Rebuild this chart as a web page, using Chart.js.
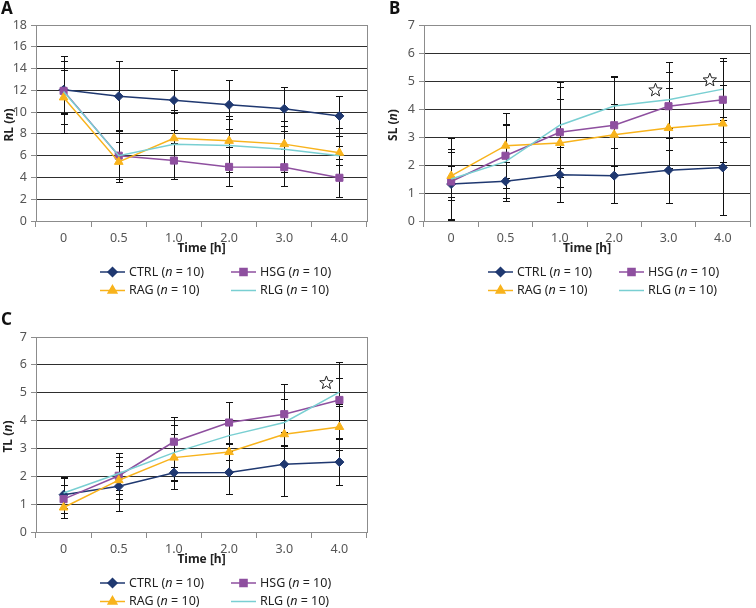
<!DOCTYPE html>
<html>
<head>
<meta charset="utf-8">
<script src="https://cdn.jsdelivr.net/npm/chart.js@4.4.1/dist/chart.umd.min.js"></script>
<style>
  body { margin: 0; background: #fff; width: 756px; height: 608px; position: relative; overflow: hidden; }
  canvas { position: absolute; }
</style>
</head>
<body>
<canvas id="chartA" width="378" height="300" style="left:0;top:0"></canvas>
<canvas id="chartB" width="378" height="300" style="left:378px;top:0"></canvas>
<canvas id="chartC" width="378" height="310" style="left:0;top:298px"></canvas>
<script>
// categories
const timeLabels = ['0', '0.5', '1.0', '2.0', '3.0', '4.0'];
const groupNames = ['CTRL', 'HSG', 'RAG', 'RLG'];

// panel A - RL (n)
const rlCtrl = [12.05, 11.45, 11.1, 10.67, 10.3, 9.65];
const rlHsg = [11.95, 6.0, 5.55, 4.97, 4.94, 3.97];
const rlRag = [11.35, 5.43, 7.6, 7.36, 7.06, 6.26];
const rlRlg = [11.9, 6.0, 7.05, 6.93, 6.6, 6.0];
const rlCtrlErr = [3.1, 3.2, 2.77, 2.25, 2.0, 1.8];
const rlHsgErr = [2.1, 2.1, 1.65, 1.8, 1.7, 1.75];
const rlRagErr = [3.3, 1.85, 2.3, 2.3, 2.15, 2.25];
const rlRlgErr = [2.0, 2.4, 3.15, 2.4, 2.1, 0.9];

// panel B - SL (n)
const slCtrl = [1.32, 1.42, 1.65, 1.62, 1.81, 1.91];
const slHsg = [1.41, 2.33, 3.17, 3.42, 4.1, 4.33];
const slRag = [1.61, 2.69, 2.79, 3.08, 3.32, 3.48];
const slRlg = [1.5, 2.12, 3.42, 4.11, 4.33, 4.71];
const slCtrlErr = [1.25, 0.7, 0.98, 0.98, 1.15, 1.7];
const slHsgErr = [0.55, 1.15, 1.6, 1.75, 1.58, 1.5];
const slRagErr = [0.85, 1.16, 1.57, 1.1, 1.44, 1.36];
const slRlgErr = [1.45, 1.3, 1.54, 1.05, 1.0, 1.0];
const slStars = [['3.0', 4.67], ['4.0', 5.03]];

// panel C - TL (n)
const tlCtrl = [1.34, 1.64, 2.13, 2.14, 2.43, 2.51];
const tlHsg = [1.18, 2.02, 3.24, 3.93, 4.23, 4.74];
const tlRag = [0.88, 1.86, 2.67, 2.87, 3.51, 3.77];
const tlRlg = [1.4, 2.1, 2.85, 3.46, 3.93, 5.02];
const tlCtrlErr = [0.64, 0.87, 0.58, 0.78, 1.15, 0.83];
const tlHsgErr = [0.5, 0.82, 0.9, 0.72, 1.1, 1.35];
const tlRagErr = [0.36, 0.5, 0.85, 0.3, 0.5, 0.83];
const tlRlgErr = [0.55, 0.6, 1.0, 0.55, 0.85, 0.5];
const tlStars = [['4.0', 5.35]];

const FONT = "'Noto Sans', 'Open Sans', sans-serif";
const colors = ['#1f3870', '#8e4f9f', '#f8b31c', '#79cfd2'];
const styles = [
  { pointStyle: 'rectRot', radius: 4.5 },
  { pointStyle: 'rect', radius: 5 },
  { pointStyle: 'triangle', radius: 5 },
  { pointStyle: false, radius: 0 },
];

function drawStar(ctx, cx, cy, ro, ri) {
  ctx.beginPath();
  for (let k = 0; k < 10; k++) {
    const r = k % 2 ? ri : ro;
    const ang = -Math.PI / 2 + k * Math.PI / 5;
    const px = cx + r * Math.cos(ang), py = cy + r * Math.sin(ang);
    if (k === 0) ctx.moveTo(px, py); else ctx.lineTo(px, py);
  }
  ctx.closePath();
  ctx.fillStyle = '#fff';
  ctx.fill();
  ctx.strokeStyle = '#222';
  ctx.lineWidth = 1;
  ctx.stroke();
}

// draws text pieces [text, italic] in a row, starting at x
function drawMixed(ctx, parts, x, y, size, weight) {
  parts.forEach(([t, it]) => {
    ctx.font = (it ? 'italic ' : '') + weight + ' ' + size + 'px ' + FONT;
    ctx.fillText(t, x, y);
    x += ctx.measureText(t).width;
  });
}
function mixedWidth(ctx, parts, size, weight) {
  let w = 0;
  parts.forEach(([t, it]) => {
    ctx.font = (it ? 'italic ' : '') + weight + ' ' + size + 'px ' + FONT;
    w += ctx.measureText(t).width;
  });
  return w;
}

const extras = {
  id: 'extras',
  beforeDatasetsDraw(chart, args, opts) {
    const { ctx, chartArea: a, scales: { x, y } } = chart;
    ctx.save();
    // right border of plot area
    ctx.strokeStyle = '#8c8c8c';
    ctx.lineWidth = 1;
    ctx.beginPath();
    ctx.moveTo(Math.round(a.right) + 0.5, a.top);
    ctx.lineTo(Math.round(a.right) + 0.5, a.bottom);
    ctx.stroke();
    // error bars
    ctx.strokeStyle = '#111';
    opts.errors.forEach((errs, di) => {
      chart.data.datasets[di].data.forEach((v, i) => {
        const px = Math.round(x.getPixelForValue(i)) + 0.5;
        const top = Math.round(y.getPixelForValue(v + errs[i])) + 0.5;
        const bot = Math.round(y.getPixelForValue(Math.max(v - errs[i], 0))) + 0.5;
        ctx.beginPath();
        ctx.moveTo(px, top); ctx.lineTo(px, bot);
        ctx.moveTo(px - 3.5, top); ctx.lineTo(px + 3.5, top);
        ctx.moveTo(px - 3.5, bot); ctx.lineTo(px + 3.5, bot);
        ctx.stroke();
      });
    });
    ctx.restore();
  },
  afterDraw(chart, args, opts) {
    const { ctx, chartArea: a, scales: { x, y } } = chart;
    ctx.save();
    ctx.textBaseline = 'alphabetic';
    // panel letter
    ctx.fillStyle = '#111';
    ctx.font = 'bold 17px ' + FONT;
    ctx.textAlign = 'left';
    ctx.fillText(opts.letter, opts.letterX, opts.letterY);
    // x title
    ctx.font = 'bold 12px ' + FONT;
    ctx.fillStyle = '#222';
    ctx.textAlign = 'center';
    ctx.textBaseline = 'middle';
    ctx.fillText('Time [h]', (a.left + a.right) / 2, a.bottom + 28);
    // y title
    const yParts = [[opts.yTitle + ' (', false], ['n', true], [')', false]];
    ctx.textAlign = 'left';
    const w = mixedWidth(ctx, yParts, 12, 'bold');
    ctx.translate(opts.yTitleX, (a.top + a.bottom) / 2 + 2);
    ctx.rotate(-Math.PI / 2);
    drawMixed(ctx, yParts, -w / 2, 0, 12, 'bold');
    ctx.setTransform(1, 0, 0, 1, 0, 0);
    // stars
    (opts.stars || []).forEach(([cat, val]) => {
      drawStar(ctx, x.getPixelForValue(timeLabels.indexOf(cat)) - 13, y.getPixelForValue(val), 7, 3);
    });
    // legend
    chart.data.datasets.forEach((ds, i) => {
      const col = i % 2, row = Math.floor(i / 2);
      const ly = a.bottom + 51 + row * 18.5;
      const lx = a.left + (col ? 195 : 64);
      ctx.strokeStyle = ds.borderColor;
      ctx.lineWidth = 1.5;
      ctx.beginPath();
      ctx.moveTo(lx, ly); ctx.lineTo(lx + 25, ly);
      ctx.stroke();
      if (ds.pointStyle) {
        ctx.fillStyle = ds.borderColor;
        Chart.helpers.drawPoint(ctx, { pointStyle: ds.pointStyle, radius: ds.pointRadius, rotation: 0, borderWidth: 1 }, lx + 12.5, ly);
        ctx.fill();
      }
      ctx.fillStyle = '#222';
      ctx.textBaseline = 'middle';
      drawMixed(ctx, [[ds.label + ' (', false], ['n', true], [' = 10)', false]], a.left + (col ? 224 : 93), ly, 12.5, 'normal');
    });
    ctx.restore();
  }
};

function makeDatasets(series) {
  return series.map((data, i) => ({
    label: groupNames[i],
    data: data,
    borderColor: colors[i],
    backgroundColor: colors[i],
    pointBackgroundColor: colors[i],
    pointBorderColor: colors[i],
    pointBorderWidth: 1,
    borderWidth: 1.5,
    tension: 0,
    pointStyle: styles[i].pointStyle,
    pointRadius: styles[i].radius,
    order: 4 - i,
  }));
}

function makeChart(id, series, errors, yMax, yStep, yTitle, yWidth, padding, extraOpts) {
  return new Chart(document.getElementById(id), {
    type: 'line',
    data: { labels: timeLabels, datasets: makeDatasets(series) },
    options: {
      responsive: false,
      animation: false,
      layout: { padding: padding },
      plugins: {
        legend: { display: false },
        tooltip: { enabled: false },
        extras: Object.assign({ errors: errors, yTitle: yTitle }, extraOpts),
      },
      scales: {
        x: {
          offset: true,
          grid: { drawOnChartArea: false, offset: true, tickLength: 6, tickColor: '#8c8c8c' },
          border: { color: '#8c8c8c' },
          ticks: { color: '#555', font: { size: 12.5, family: FONT }, padding: 4, maxRotation: 0 },
          afterFit(s) { s.height = 40; },
        },
        y: {
          min: 0,
          max: yMax,
          ticks: { stepSize: yStep, color: '#555', font: { size: 12.5, family: FONT }, padding: 4 },
          grid: {
            color: (c) => (c.tick && (c.tick.value === 0 || c.tick.value === yMax)) ? '#8c8c8c' : '#2e2e2e',
            tickColor: '#8c8c8c',
            tickLength: 5,
          },
          border: { color: '#8c8c8c' },
          afterFit(s) { s.width = yWidth; },
        },
      },
    },
    plugins: [extras],
  });
}

makeChart('chartA', [rlCtrl, rlHsg, rlRag, rlRlg], [rlCtrlErr, rlHsgErr, rlRagErr, rlRlgErr],
  18, 2, 'RL', 36, { top: 25, right: 11, bottom: 39, left: 0 },
  { letter: 'A', letterX: 1, letterY: 14, yTitleX: 10 });

makeChart('chartB', [slCtrl, slHsg, slRag, slRlg], [slCtrlErr, slHsgErr, slRagErr, slRlgErr],
  7, 1, 'SL', 46, { top: 25, right: 2, bottom: 39, left: 0 },
  { letter: 'B', letterX: 11, letterY: 14, yTitleX: 15.5, stars: slStars });

makeChart('chartC', [tlCtrl, tlHsg, tlRag, tlRlg], [tlCtrlErr, tlHsgErr, tlRagErr, tlRlgErr],
  7, 1, 'TL', 36, { top: 39, right: 11, bottom: 36, left: 0 },
  { letter: 'C', letterX: 1, letterY: 27, yTitleX: 8.5, stars: tlStars });
</script>
</body>
</html>
